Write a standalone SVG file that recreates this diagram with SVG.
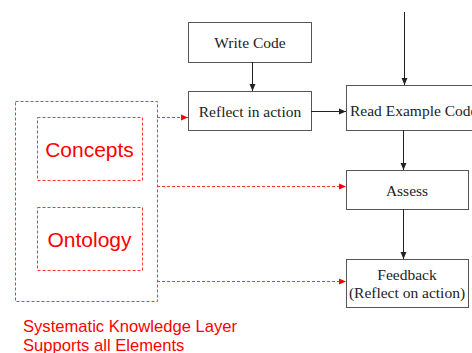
<svg xmlns="http://www.w3.org/2000/svg" width="472" height="353" viewBox="0 0 472 353">
<defs>
<style>
.box{fill:#fff;stroke:#555;stroke-width:1}
.lbl{font-family:"Liberation Serif",serif;font-size:15.5px;fill:#222;text-anchor:middle}
.lft{text-anchor:start}
.red{fill:none;stroke:#f33;stroke-width:1;stroke-dasharray:3,2}
.rt{font-family:"Liberation Sans",Arial,sans-serif;fill:#f00}
.big{font-size:21px;text-anchor:middle}
.blk{stroke:#222;stroke-width:1;fill:none}
</style>
<marker id="ab" markerWidth="8" markerHeight="8" refX="7" refY="4" orient="auto" markerUnits="userSpaceOnUse"><path d="M0,1 L7,4 L0,7 Z" fill="#222"/></marker>
<marker id="ar" markerWidth="8" markerHeight="8" refX="7" refY="4" orient="auto" markerUnits="userSpaceOnUse"><path d="M0,1 L7,4 L0,7 Z" fill="#f00"/></marker>
</defs>
<rect width="472" height="353" fill="#fff"/>
<g id="layer">
<rect class="red" x="15.5" y="101.5" width="142" height="200"/>
<text class="rt" x="23" y="332" font-size="16.6">Systematic Knowledge Layer</text>
<text class="rt" x="23" y="351" font-size="16.6">Supports all Elements</text>
</g>
<g id="concepts">
<rect class="red" x="37.5" y="117.5" width="105" height="63"/>
<text class="rt big" x="89.5" y="157">Concepts</text>
</g>
<g id="ontology">
<rect class="red" x="37.5" y="207.5" width="105" height="63"/>
<text class="rt big" x="89.5" y="247">Ontology</text>
</g>
<g id="write-code">
<rect class="box" x="188.5" y="22.5" width="123" height="40"/>
<text class="lbl" x="250" y="48">Write Code</text>
</g>
<g id="reflect-in-action">
<rect class="box" x="188.5" y="91.5" width="123" height="39"/>
<text class="lbl" x="250" y="117">Reflect in action</text>
</g>
<g id="read-example-code">
<rect class="box" x="346.5" y="85.5" width="130" height="45"/>
<text class="lbl lft" x="350" y="116">Read Example Code</text>
</g>
<g id="assess">
<rect class="box" x="346.5" y="170.5" width="122" height="39"/>
<text class="lbl" x="407" y="196">Assess</text>
</g>
<g id="feedback">
<rect class="box" x="346.5" y="259.5" width="122" height="48"/>
<text class="lbl" x="407" y="280">Feedback</text>
<text class="lbl" x="407" y="298">(Reflect on action)</text>
</g>
<g id="connectors">
<line class="blk" x1="252.5" y1="62" x2="252.5" y2="91" marker-end="url(#ab)"/>
<line class="blk" x1="311" y1="111.5" x2="346" y2="111.5" marker-end="url(#ab)"/>
<line class="blk" x1="404.5" y1="12" x2="404.5" y2="85" marker-end="url(#ab)"/>
<line class="blk" x1="403.5" y1="130" x2="403.5" y2="170" marker-end="url(#ab)"/>
<line class="blk" x1="403.5" y1="209" x2="403.5" y2="259" marker-end="url(#ab)"/>
<line class="red" x1="157" y1="117.5" x2="188" y2="117.5" marker-end="url(#ar)"/>
<line class="red" x1="157" y1="186.5" x2="346" y2="186.5" marker-end="url(#ar)"/>
<line class="red" x1="157" y1="281.5" x2="346" y2="281.5" marker-end="url(#ar)"/>
</g>
</svg>
